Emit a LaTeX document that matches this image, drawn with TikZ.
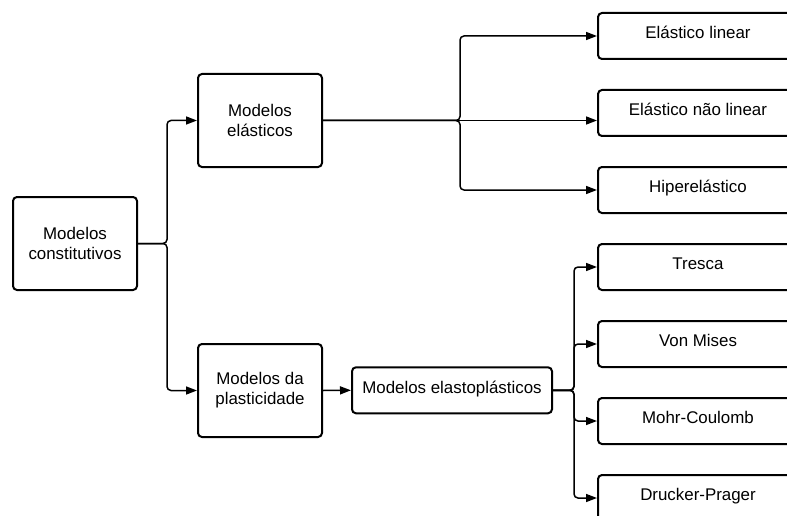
\documentclass[tikz,border=0pt]{standalone}
\usepackage{fontspec}
\setmainfont{Liberation Sans}
\usetikzlibrary{arrows.meta}

\tikzset{
  box/.style={draw=black, fill=white, line width=2pt, rounded corners=4pt,
    align=center, inner sep=0pt, font=\fontsize{16.9}{20}\selectfont},
  bigbox/.style={box, minimum width=124pt, minimum height=93pt},
  leafbox/.style={box, minimum width=200pt, minimum height=46pt, text depth=6.5pt},
  conn/.style={draw=black, line width=1.5pt, rounded corners=4pt,
    -{Triangle[length=11pt, width=8pt]}},
}

\begin{document}
\begin{tikzpicture}[x=1pt, y=-1pt]
  \clip (0,0) rectangle (787,516);
  \fill[white] (0,0) rectangle (787,516);

  % left column
  \node[bigbox] (const) at (75,243.5) {Modelos\\constitutivos};
  \node[bigbox] (elast) at (260,120.5) {Modelos\\elásticos};
  \node[bigbox] (plast) at (260,390.5) {Modelos da\\plasticidade};
  \node[leafbox] (elpl) at (452,390.3) {Modelos elastoplásticos};

  % elastic families
  \node[leafbox] (lin)  at (698,36)  {Elástico linear};
  \node[leafbox] (nlin) at (698,113) {Elástico não linear};
  \node[leafbox] (hip)  at (698,190) {Hiperelástico};

  % yield criteria
  \node[leafbox] (tre) at (698,267) {Tresca};
  \node[leafbox] (vm)  at (698,344) {Von Mises};
  \node[leafbox] (mc)  at (698,421) {Mohr-Coulomb};
  \node[leafbox] (dp)  at (698,498) {Drucker-Prager};

  % branch points
  \coordinate (j1) at (167,243.5);
  \coordinate (j2) at (460,120.5);
  \coordinate (j3) at (574,390.3);

  \draw[conn] (const.east) -- (j1) |- (elast.west);
  \draw[conn] (const.east) -- (j1) |- (plast.west);

  \draw[conn] (elast.east) -- (j2) |- (lin.west);
  \draw[conn] (elast.east) -- (elast.east -| nlin.west);
  \draw[conn] (elast.east) -- (j2) |- (hip.west);

  \draw[conn] (plast.east) -- (elpl.west);

  \draw[conn] (elpl.east) -- (j3) |- (tre.west);
  \draw[conn] (elpl.east) -- (j3) |- (vm.west);
  \draw[conn] (elpl.east) -- (j3) |- (mc.west);
  \draw[conn] (elpl.east) -- (j3) |- (dp.west);
\end{tikzpicture}
\end{document}
